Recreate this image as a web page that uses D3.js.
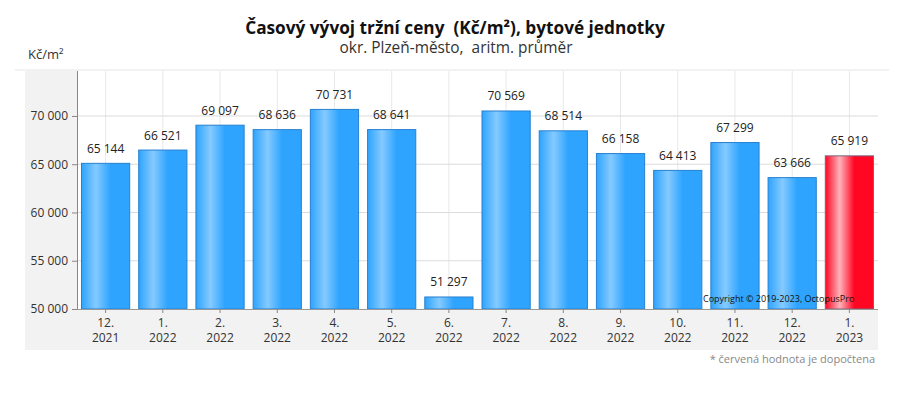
<!DOCTYPE html>
<html>
<head>
<meta charset="utf-8">
<script src="https://cdn.jsdelivr.net/npm/d3@7"></script>
<style>
  body { margin: 0; background: #fff; }
  text { font-family: "Open Sans", sans-serif; white-space: pre; }
</style>
</head>
<body>
<div class="chart"></div>
<script>
// data
var months = ["12.", "1.", "2.", "3.", "4.", "5.", "6.", "7.", "8.", "9.", "10.", "11.", "12.", "1."];
var years = ["2021", "2022", "2022", "2022", "2022", "2022", "2022", "2022", "2022", "2022", "2022", "2022", "2022", "2023"];
var prices = [65144, 66521, 69097, 68636, 70731, 68641, 51297, 70569, 68514, 66158, 64413, 67299, 63666, 65919];
var computed = [false, false, false, false, false, false, false, false, false, false, false, false, false, true];
var yTicks = [50000, 55000, 60000, 65000, 70000];

var svgWidth = 904, svgHeight = 408;
var margin = { top: 71, right: 26, bottom: 99, left: 77 };
var width = svgWidth - margin.left - margin.right;
var height = svgHeight - margin.top - margin.bottom;

var svg = d3.select(".chart").append("svg")
  .attr("width", svgWidth)
  .attr("height", svgHeight);

var defs = svg.append("defs");
function grad(id, edge, light) {
  var g = defs.append("linearGradient").attr("id", id)
    .attr("x1", "0%").attr("x2", "100%").attr("y1", "0%").attr("y2", "0%");
  g.append("stop").attr("offset", "0%").attr("stop-color", edge);
  g.append("stop").attr("offset", "30%").attr("stop-color", light);
  g.append("stop").attr("offset", "60%").attr("stop-color", edge);
  g.append("stop").attr("offset", "100%").attr("stop-color", edge);
}
grad("blueGrad", "#2ea4ff", "#85caff");
grad("redGrad", "#ff0622", "#ffb3bb");

// gray panels around the axes
svg.append("rect").attr("x", 15).attr("y", 69).attr("width", 874).attr("height", 2).attr("fill", "#f2f2f2");
svg.append("rect").attr("x", 25).attr("y", margin.top).attr("width", margin.left - 25).attr("height", height + 41).attr("fill", "#f2f2f2");
svg.append("rect").attr("x", 25).attr("y", margin.top + height).attr("width", width + margin.left - 25).attr("height", 41).attr("fill", "#f2f2f2");

var chart = svg.append("g")
  .attr("transform", "translate(" + margin.left + "," + margin.top + ")");

var x = d3.scaleBand().domain(d3.range(prices.length)).range([0, width]).paddingInner(0.14).paddingOuter(0.07);
var y = d3.scaleLinear().domain([50000, 74660]).range([height, 0]);

// grid
chart.selectAll(".vgrid").data(d3.range(prices.length)).enter().append("line")
  .attr("x1", function(d) { return x(d) + x.bandwidth() / 2; })
  .attr("x2", function(d) { return x(d) + x.bandwidth() / 2; })
  .attr("y1", 0).attr("y2", height)
  .attr("stroke", "#e8e8e8");
chart.selectAll(".hgrid").data(yTicks.slice(1)).enter().append("line")
  .attr("x1", 0).attr("x2", width)
  .attr("y1", function(d) { return y(d); })
  .attr("y2", function(d) { return y(d); })
  .attr("stroke", "#dcdcdc");

// bars
chart.selectAll(".bar").data(prices).enter().append("rect")
  .attr("x", function(d, i) { return x(i) + 0.5; })
  .attr("y", function(d) { return y(d) + 0.5; })
  .attr("width", x.bandwidth() - 1)
  .attr("height", function(d) { return height - y(d) - 0.5; })
  .attr("fill", function(d, i) { return computed[i] ? "url(#redGrad)" : "url(#blueGrad)"; })
  .attr("stroke", function(d, i) { return computed[i] ? "#7a6480" : "#2780d0"; })
  .attr("stroke-width", 1);

var fmt = function(v) { return d3.format(",")(v).replace(/,/g, " "); };

chart.selectAll(".val").data(prices).enter().append("text")
  .attr("x", function(d, i) { return x(i) + x.bandwidth() / 2; })
  .attr("y", function(d) { return y(d) - 10; })
  .attr("text-anchor", "middle")
  .attr("font-size", "12px")
  .attr("fill", "#222")
  .text(fmt);

// axes
var leftAxis = d3.axisLeft(y).tickValues(yTicks).tickSize(5).tickPadding(4).tickFormat(fmt);
var yAxis = chart.append("g").call(leftAxis);
yAxis.select(".domain").attr("stroke", "#888").attr("d", "M0.5,0V" + height);
yAxis.selectAll("line").attr("stroke", "#888");
yAxis.selectAll("text").attr("font-size", "12px").attr("fill", "#333").attr("font-family", "Open Sans, sans-serif");

var bottomAxis = d3.axisBottom(x).tickSize(4).tickFormat("");
var xAxis = chart.append("g").attr("transform", "translate(0," + height + ")").call(bottomAxis);
xAxis.select(".domain").attr("stroke", "#999").attr("d", "M0,0.5H" + width);
xAxis.selectAll("line").attr("stroke", "#888");

// two-line month / year labels
chart.selectAll(".xm").data(months).enter().append("text")
  .attr("x", function(d, i) { return x(i) + x.bandwidth() / 2; })
  .attr("y", height + 18)
  .attr("text-anchor", "middle")
  .attr("font-size", "12px")
  .attr("fill", "#333")
  .text(function(d) { return d; });
chart.selectAll(".xy").data(years).enter().append("text")
  .attr("x", function(d, i) { return x(i) + x.bandwidth() / 2; })
  .attr("y", height + 33)
  .attr("text-anchor", "middle")
  .attr("font-size", "12px")
  .attr("fill", "#333")
  .text(function(d) { return d; });

// titles, sized to the width they take in the original
function fitText(sel, size, target) {
  sel.attr("font-size", size + "px");
  var len = sel.node().getComputedTextLength();
  sel.attr("font-size", (size * target / len).toFixed(2) + "px");
}
var title = svg.append("text").attr("x", 455).attr("y", 34).attr("text-anchor", "middle")
  .attr("font-weight", "bold").attr("fill", "#111")
  .text("Časový vývoj tržní ceny  (Kč/m²), bytové jednotky");
fitText(title, 16, 420);
var subtitle = svg.append("text").attr("x", 456).attr("y", 53).attr("text-anchor", "middle")
  .attr("fill", "#333")
  .text("okr. Plzeň-město,  aritm. průměr");
fitText(subtitle, 15, 233);

svg.append("text").attr("x", 28).attr("y", 59)
  .attr("font-size", "13px").attr("fill", "#333")
  .text("Kč/m²");
svg.append("text").attr("x", 703).attr("y", 302)
  .attr("font-size", "9px").attr("fill", "#111")
  .text("Copyright © 2019-2023, OctopusPro");
svg.append("text").attr("x", 875).attr("y", 363).attr("text-anchor", "end")
  .attr("font-size", "11px").attr("fill", "#888")
  .text("* červená hodnota je dopočtena");
</script>
</body>
</html>
